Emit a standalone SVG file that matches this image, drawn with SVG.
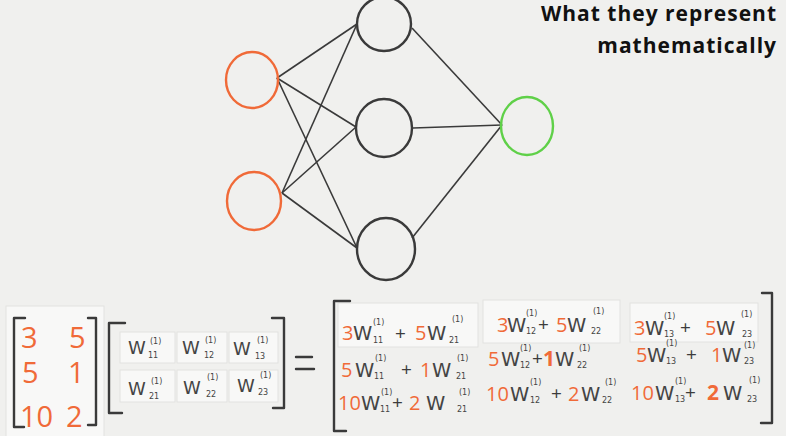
<svg xmlns="http://www.w3.org/2000/svg" width="786" height="436" viewBox="0 0 786 436">
<defs>
<style>
.bg{fill:#f0f0ee}
.card{fill:#f8f8f7;stroke:#e2e2e0;stroke-width:1}
.n{fill:none;stroke-width:2.4}
.or{stroke:#f06a38}
.gr{stroke:#5fd048}
.bk{stroke:#3a3a3a}
.ln{stroke:#3a3a3a;stroke-width:1.6;fill:none}
.br{fill:none;stroke:#3a3a3a;stroke-width:2.4;stroke-linejoin:round;stroke-linecap:round}
text{font-family:"Open Sans","DejaVu Sans",sans-serif}
.title{font-weight:bold;font-size:21px;letter-spacing:1px;fill:#111;text-anchor:end}
.d{fill:#f06a38;font-size:20px}
.db{fill:#f06a38;font-size:21px;font-weight:bold}
.L{fill:#f06a38;font-size:29px}
.w{fill:#444;font-size:19.5px;font-family:"DejaVu Sans",sans-serif}
.wm{fill:#444;font-size:18px;font-family:"DejaVu Sans",sans-serif}
.p{fill:#3c3c3c;font-size:19px}
.s{fill:#444;font-size:8px;font-family:"DejaVu Sans",sans-serif}
</style>
</defs>
<rect class="bg" width="786" height="436"/>

<g id="connectors">
<line class="ln" x1="277" y1="78" x2="357" y2="24"/>
<line class="ln" x1="277" y1="78" x2="356" y2="127"/>
<line class="ln" x1="277" y1="78" x2="357" y2="248"/>
<line class="ln" x1="282" y1="193" x2="357" y2="24"/>
<line class="ln" x1="282" y1="193" x2="356" y2="127"/>
<line class="ln" x1="282" y1="193" x2="357" y2="248"/>
<line class="ln" x1="412" y1="28" x2="502" y2="125"/>
<line class="ln" x1="413" y1="128" x2="502" y2="125"/>
<line class="ln" x1="412" y1="238" x2="502" y2="125"/>
</g>

<g id="input1"><ellipse class="n or" cx="252" cy="80" rx="26" ry="28"/></g>
<g id="input2"><ellipse class="n or" cx="254" cy="201" rx="27" ry="29"/></g>
<g id="hidden1"><ellipse class="n bk" cx="384" cy="24" rx="27" ry="27"/></g>
<g id="hidden2"><ellipse class="n bk" cx="384" cy="128" rx="28" ry="29"/></g>
<g id="hidden3"><ellipse class="n bk" cx="386" cy="249" rx="29" ry="31"/></g>
<g id="output"><ellipse class="n gr" cx="527" cy="126" rx="26" ry="29"/></g>

<g id="title">
<text class="title" x="777" y="21">What they represent</text>
<text class="title" x="777" y="53">mathematically</text>
</g>

<g id="inputMatrix">
<rect class="card" x="6" y="306" width="98" height="132"/>
<path class="br" d="M25,318 L14,318 L14,427 L24,427"/>
<path class="br" d="M88,318 L96,318 L96,425 L88,425"/>
<text class="L" x="21" y="348">3</text>
<text class="L" x="69" y="348">5</text>
<text class="L" x="22" y="383">5</text>
<text class="L" x="68" y="383">1</text>
<text class="L" x="20" y="427">10</text>
<text class="L" x="66" y="427">2</text>
</g>

<g id="weightMatrix">
<rect class="card" x="120" y="332" width="55" height="31"/>
<rect class="card" x="177" y="332" width="50" height="31"/>
<rect class="card" x="229" y="332" width="49" height="31"/>
<rect class="card" x="120" y="370" width="55" height="32"/>
<rect class="card" x="177" y="370" width="50" height="32"/>
<rect class="card" x="229" y="370" width="49" height="32"/>
<path class="br" d="M125,323 L109,323 L109,413 L122,413"/>
<path class="br" d="M272,318 L284,318 L284,408 L273,408"/>
<text class="wm" x="128" y="354">W</text><text class="s" x="150" y="344">(1)</text><text class="s" x="148" y="358">11</text>
<text class="wm" x="182" y="354">W</text><text class="s" x="205" y="343">(1)</text><text class="s" x="204" y="358">12</text>
<text class="wm" x="233" y="355">W</text><text class="s" x="257" y="343">(1)</text><text class="s" x="255" y="359">13</text>
<text class="wm" x="128" y="395">W</text><text class="s" x="151" y="384">(1)</text><text class="s" x="149" y="399">21</text>
<text class="wm" x="183" y="394">W</text><text class="s" x="207" y="380">(1)</text><text class="s" x="206" y="397">22</text>
<text class="wm" x="237" y="392">W</text><text class="s" x="260" y="378">(1)</text><text class="s" x="258" y="395">23</text>
</g>

<g id="equals">
<path class="br" d="M296,357 L312,357 M296,369 L314,369"/>
</g>

<g id="resultMatrix">
<rect class="card" x="338" y="303" width="140" height="44"/>
<rect class="card" x="483" y="300" width="137" height="43"/>
<rect class="card" x="630" y="303" width="128" height="39"/>
<path class="br" d="M350,301 L334,301 L334,431 L346,431"/>
<path class="br" d="M762,293 L772,293 L772,423 L761,423"/>

<text class="d" x="342" y="340">3</text><text class="w" x="353" y="340">W</text><text class="s" x="373" y="325">(1)</text><text class="s" x="373" y="343">11</text>
<text class="p" x="395" y="340">+</text>
<text class="d" x="415" y="340">5</text><text class="w" x="427" y="340">W</text><text class="s" x="452" y="322">(1)</text><text class="s" x="449" y="343">21</text>

<text class="d" x="341" y="377">5</text><text class="w" x="355" y="377">W</text><text class="s" x="375" y="361">(1)</text><text class="s" x="374" y="379">11</text>
<text class="p" x="401" y="376">+</text>
<text class="d" x="420" y="377">1</text><text class="w" x="432" y="377">W</text><text class="s" x="457" y="361">(1)</text><text class="s" x="456" y="379">21</text>

<text class="d" x="338" y="410">10</text><text class="w" x="361" y="410">W</text><text class="s" x="381" y="395">(1)</text><text class="s" x="380" y="412">11</text>
<text class="p" x="392" y="409">+</text>
<text class="d" x="409" y="410">2</text><text class="w" x="426" y="410">W</text><text class="s" x="459" y="395">(1)</text><text class="s" x="457" y="412">21</text>

<text class="d" x="497" y="332">3</text><text class="w" x="507" y="332">W</text><text class="s" x="526" y="316">(1)</text><text class="s" x="526" y="334">12</text>
<text class="p" x="538" y="331">+</text>
<text class="d" x="556" y="332">5</text><text class="w" x="567" y="332">W</text><text class="s" x="593" y="314">(1)</text><text class="s" x="591" y="334">22</text>

<text class="d" x="488" y="366">5</text><text class="w" x="501" y="366">W</text><text class="s" x="520" y="351">(1)</text><text class="s" x="520" y="368">12</text>
<text class="p" x="532" y="365">+</text>
<text class="db" x="543" y="366">1</text><text class="w" x="555" y="366">W</text><text class="s" x="579" y="351">(1)</text><text class="s" x="577" y="368">22</text>

<text class="d" x="486" y="401">10</text><text class="w" x="510" y="401">W</text><text class="s" x="530" y="385">(1)</text><text class="s" x="530" y="403">12</text>
<text class="p" x="551" y="400">+</text>
<text class="d" x="568" y="401">2</text><text class="w" x="581" y="401">W</text><text class="s" x="605" y="385">(1)</text><text class="s" x="602" y="403">22</text>

<text class="d" x="634" y="335">3</text><text class="w" x="645" y="335">W</text><text class="s" x="664" y="319">(1)</text><text class="s" x="664" y="337">13</text>
<text class="p" x="680" y="334">+</text>
<text class="d" x="705" y="335">5</text><text class="w" x="716" y="335">W</text><text class="s" x="741" y="317">(1)</text><text class="s" x="742" y="337">23</text>

<text class="d" x="636" y="362">5</text><text class="w" x="647" y="362">W</text><text class="s" x="666" y="346">(1)</text><text class="s" x="666" y="364">13</text>
<text class="p" x="686" y="361">+</text>
<text class="d" x="711" y="362">1</text><text class="w" x="722" y="362">W</text><text class="s" x="744" y="348">(1)</text><text class="s" x="744" y="364">23</text>

<text class="d" x="631" y="400">10</text><text class="w" x="655" y="400">W</text><text class="s" x="675" y="384">(1)</text><text class="s" x="675" y="402">13</text>
<text class="p" x="685" y="399">+</text>
<text class="db" x="707" y="400">2</text><text class="w" x="723" y="400">W</text><text class="s" x="749" y="383">(1)</text><text class="s" x="747" y="402">23</text>
</g>
</svg>
